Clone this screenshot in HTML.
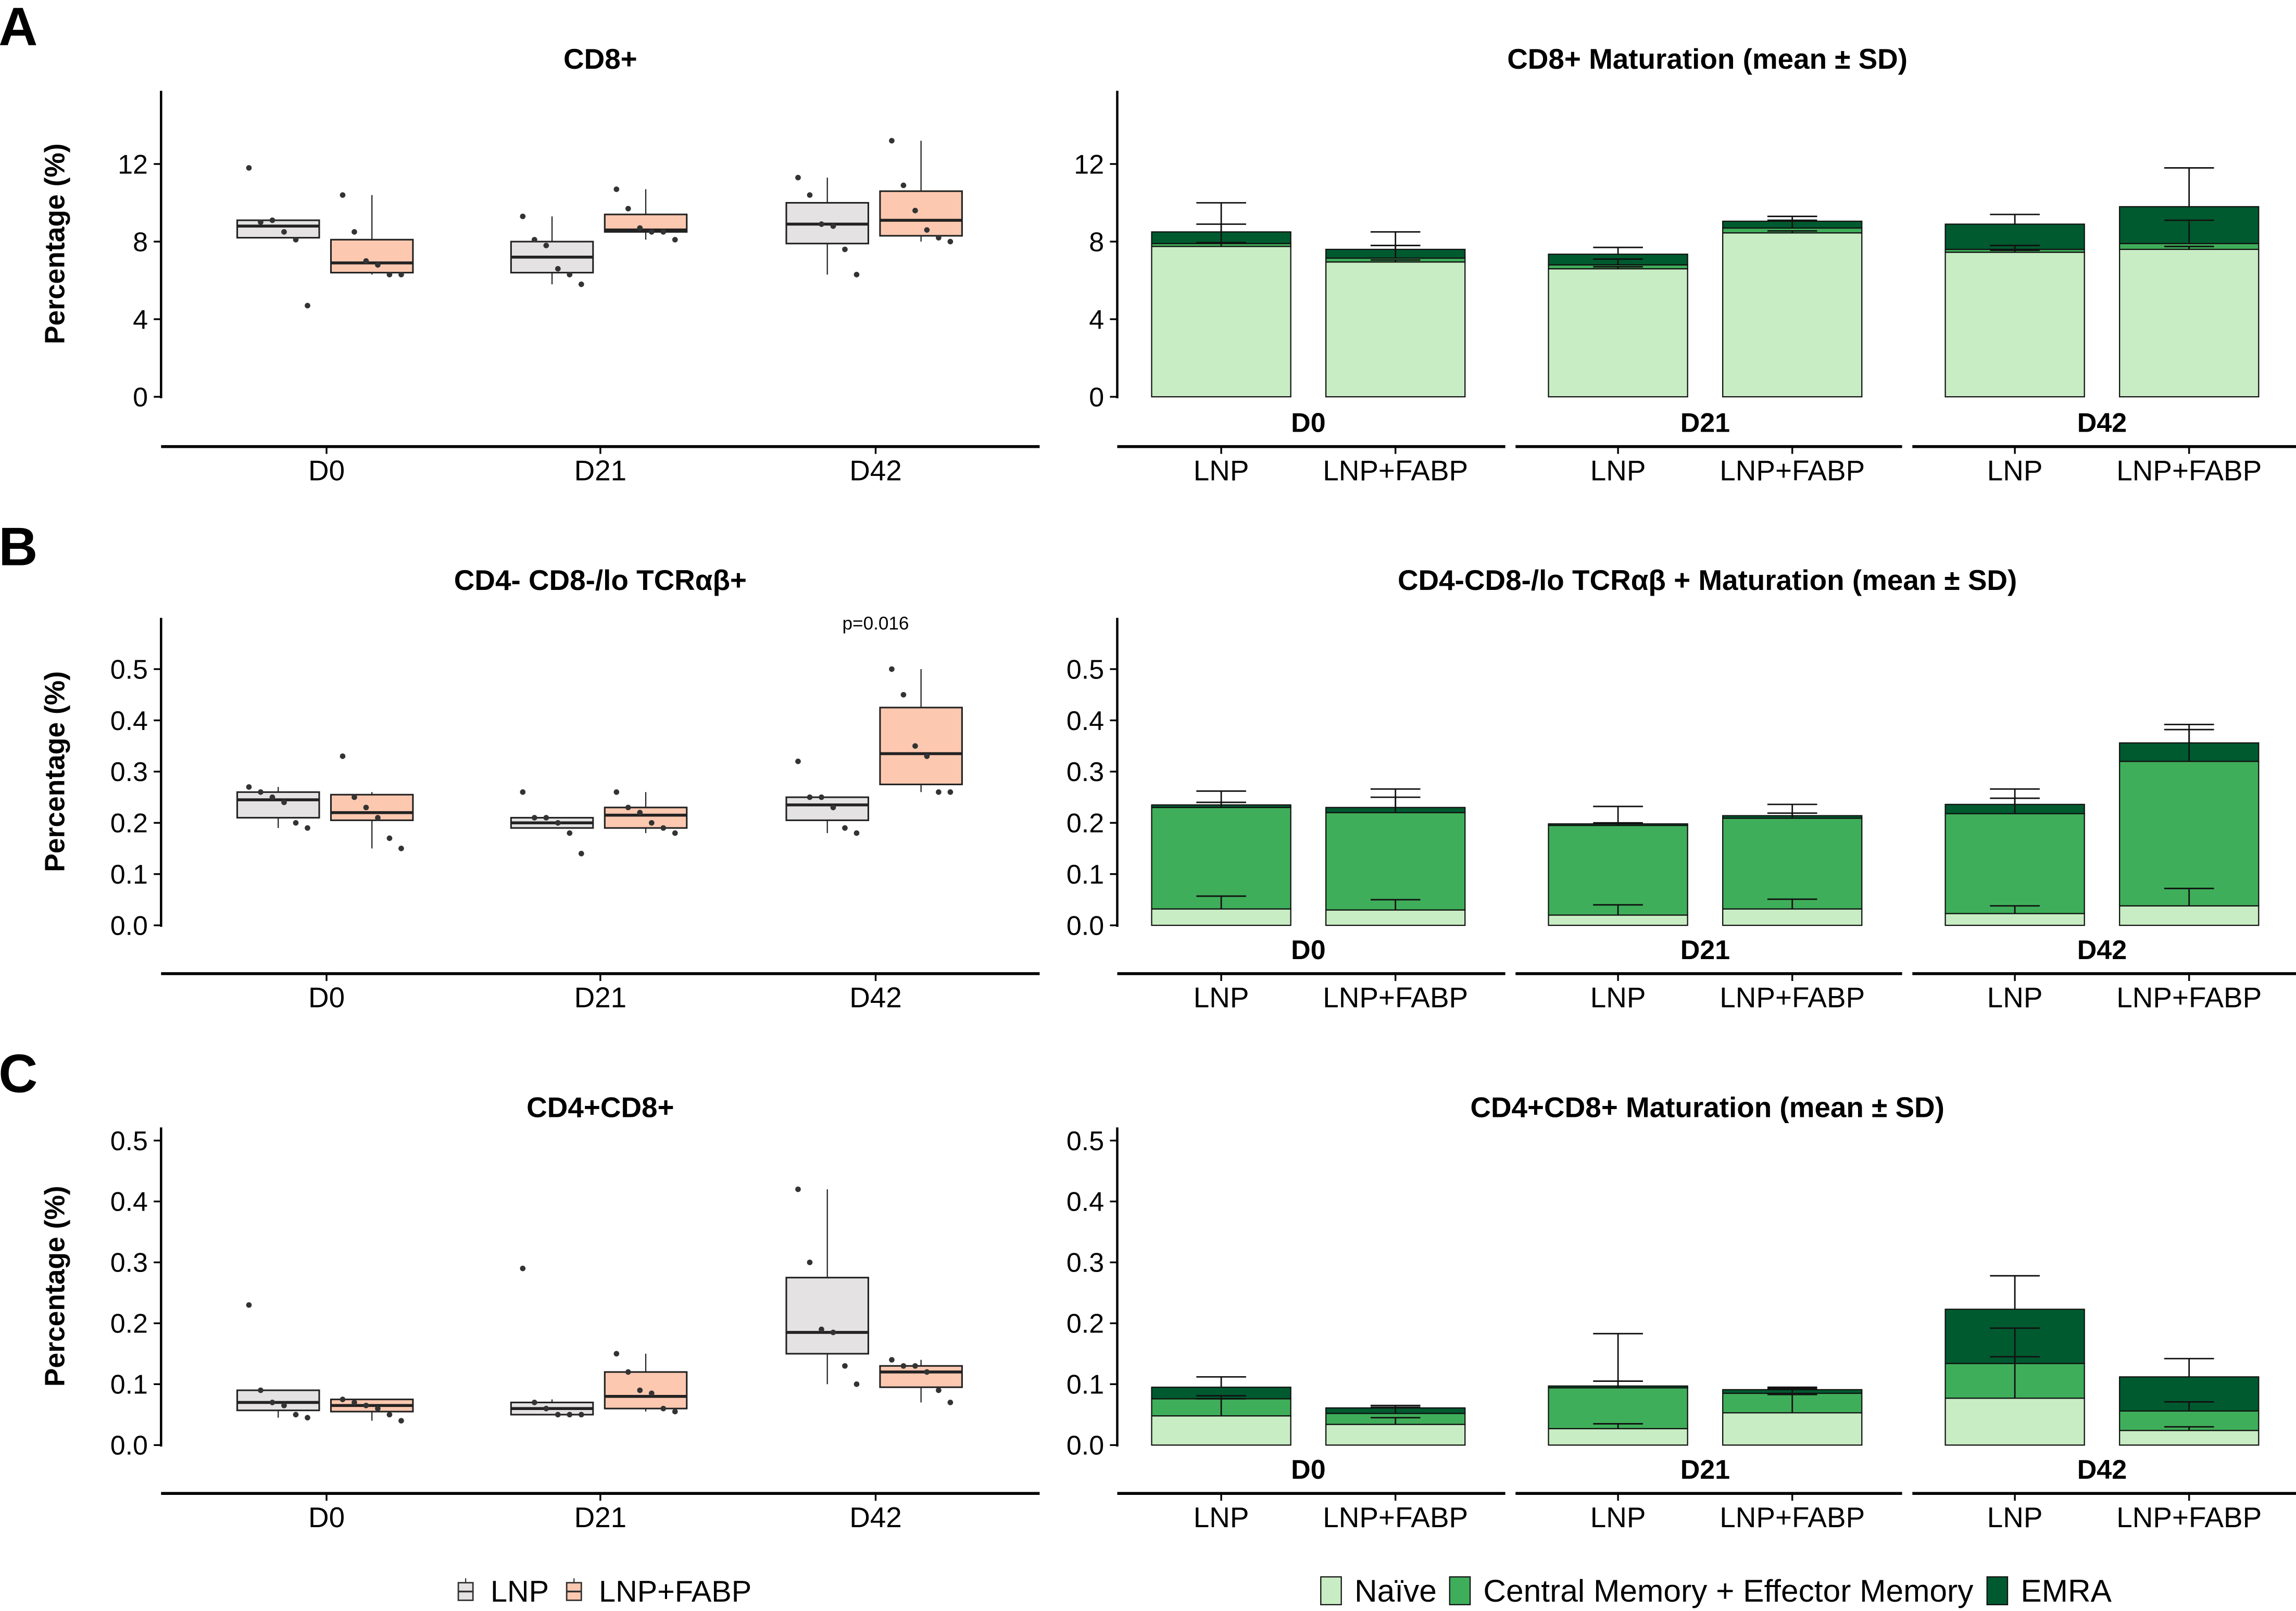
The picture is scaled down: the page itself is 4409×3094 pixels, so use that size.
<!DOCTYPE html>
<html><head><meta charset="utf-8">
<style>
html,body{margin:0;padding:0;background:#fff;}
svg{display:block;}
text{font-family:"Liberation Sans Narrow","Liberation Sans",sans-serif;fill:#000;}
.b{font-weight:bold;}
</style></head>
<body>
<svg id="fig" width="4409" height="3094" viewBox="0 0 1568 1100.3" xmlns="http://www.w3.org/2000/svg">
</svg>
<script>
// ---------- data ----------
const days = ["D0","D21","D42"];
const groups = ["LNP","LNP+FABP"];
// Box stats per box in order D0-LNP, D0-FABP, D21-LNP, D21-FABP, D42-LNP, D42-FABP : [lo,q1,med,q3,hi]
const boxA = [[8.2,8.2,8.8,9.1,9.1],[6.3,6.4,6.9,8.1,10.4],[5.8,6.4,7.2,8.0,9.3],[8.1,8.5,8.6,9.4,10.7],[6.3,7.9,8.9,10.0,11.3],[8.0,8.3,9.1,10.6,13.2]];
const ptsA = [[11.8,9.0,9.1,8.5,8.1,4.7],[10.4,8.5,7.0,6.8,6.3,6.3],[9.3,8.1,7.8,6.6,6.3,5.8],[10.7,9.7,8.7,8.5,8.5,8.1],[11.3,10.4,8.9,8.8,7.6,6.3],[13.2,10.9,9.6,8.6,8.2,8.0]];
const boxB = [[0.19,0.21,0.245,0.26,0.27],[0.15,0.205,0.22,0.255,0.26],[0.19,0.19,0.20,0.21,0.21],[0.18,0.19,0.215,0.23,0.26],[0.18,0.205,0.235,0.25,0.25],[0.26,0.275,0.335,0.425,0.50]];
const ptsB = [[0.27,0.26,0.25,0.24,0.20,0.19],[0.33,0.25,0.23,0.21,0.17,0.15],[0.26,0.21,0.21,0.20,0.18,0.14],[0.26,0.23,0.22,0.20,0.19,0.18],[0.32,0.25,0.25,0.23,0.19,0.18],[0.50,0.45,0.35,0.33,0.26,0.26]];
const boxC = [[0.045,0.057,0.07,0.09,0.09],[0.04,0.055,0.065,0.075,0.075],[0.05,0.05,0.06,0.07,0.075],[0.055,0.06,0.08,0.12,0.15],[0.10,0.15,0.185,0.275,0.42],[0.07,0.095,0.12,0.13,0.14]];
const ptsC = [[0.23,0.09,0.07,0.065,0.05,0.045],[0.075,0.07,0.065,0.06,0.05,0.04],[0.29,0.07,0.06,0.05,0.05,0.05],[0.15,0.12,0.09,0.085,0.06,0.055],[0.42,0.30,0.19,0.185,0.13,0.10],[0.14,0.13,0.13,0.12,0.09,0.07]];
// Stacked maturation: naive, central+effector memory, EMRA means and SDs
const naiveA = [7.75,6.95,6.6,8.45,7.45,7.6];
const memA   = [0.15,0.2,0.2,0.25,0.15,0.3];
const emraA  = [0.6,0.45,0.55,0.35,1.3,1.9];
const sdNA = [0.2,0.1,0.1,0.1,0.1,0.15];
const sdMA = [1.0,0.65,0.3,0.4,0.2,1.2];
const sdEA = [1.5,0.9,0.35,0.25,0.5,2.0];
const naiveB = [0.032,0.03,0.02,0.032,0.023,0.038];
const memB   = [0.198,0.19,0.175,0.177,0.195,0.282];
const emraB  = [0.005,0.01,0.003,0.005,0.018,0.036];
const sdNB = [0.025,0.02,0.02,0.019,0.015,0.034];
const sdMB = [0.01,0.03,0.005,0.01,0.03,0.062];
const sdEB = [0.027,0.036,0.034,0.022,0.03,0.036];
const naiveC = [0.048,0.034,0.027,0.053,0.077,0.024];
const memC   = [0.028,0.018,0.067,0.032,0.057,0.032];
const emraC  = [0.019,0.009,0.003,0.006,0.089,0.056];
const sdNC = [0.028,0.011,0.008,0.03,0.068,0.006];
const sdMC = [0.005,0.01,0.011,0.008,0.058,0.015];
const sdEC = [0.017,0.004,0.086,0.004,0.055,0.03];
const ticksA = [0,4,8,12];
const ticksBC = [0,0.1,0.2,0.3,0.4,0.5];

// ---------- drawing ----------
const svg = document.getElementById('fig');
const NS = "http://www.w3.org/2000/svg";
function mk(tag, attrs, parent){
  const e = document.createElementNS(NS, tag);
  for (const k in attrs) e.setAttribute(k, attrs[k]);
  (parent||svg).appendChild(e);
  return e;
}
function txt(s, x, y, size, opts, parent){
  const t = mk('text', Object.assign({x:x, y:y, 'font-size':size}, opts||{}), parent);
  t.textContent = s;
  return t;
}
const colLNP="#e4e2e2", colFABP="#fdc8b0";
const colN="#c8edc4", colM="#3fae5a", colE="#005a2f";
const dayX = [223,410,598];
const barX = [834,953,1105,1224,1376,1495];
const facets = [[763,1028],[1035,1299],[1306,1568]];

const panels = [
 {letter:"A", ly:31, title:"CD8+", rtitle:"CD8+ Maturation (mean ± SD)", ty:47, top:62, y0:271, ppu:13.25, ticks:ticksA, fmt:v=>String(v), xa:305, box:boxA, pts:ptsA, N:naiveA, M:memA, E:emraA, sN:sdNA, sM:sdMA, sE:sdEA},
 {letter:"B", ly:386, title:"CD4- CD8-/lo TCRαβ+", rtitle:"CD4-CD8-/lo TCRαβ + Maturation (mean ± SD)", ty:403, top:422, y0:632, ppu:350, ticks:ticksBC, fmt:v=>v.toFixed(1), xa:665, box:boxB, pts:ptsB, N:naiveB, M:memB, E:emraB, sN:sdNB, sM:sdMB, sE:sdEB, p:"p=0.016"},
 {letter:"C", ly:746, title:"CD4+CD8+", rtitle:"CD4+CD8+ Maturation (mean ± SD)", ty:763, top:770, y0:987, ppu:416, ticks:ticksBC, fmt:v=>v.toFixed(1), xa:1020, box:boxC, pts:ptsC, N:naiveC, M:memC, E:emraC, sN:sdNC, sM:sdMC, sE:sdEC}
];

panels.forEach((P, pi) => {
  const y = v => P.y0 - v*P.ppu;
  const g = mk('g', {});
  
  
  const L = txt(P.letter, -1, P.ly, 37, {class:'b', 'font-family':'Liberation Sans'}, g);
  
  

  // ---- left box plot ----
  const lg = mk('g', {}, g);
  
  
  const t1 = txt(P.title, 410, P.ty, 19.5, {class:'b','text-anchor':'middle','font-family':'Liberation Sans'}, lg);
  
  
  const yl = txt("Percentage (%)", 0, 0, 19, {class:'b','text-anchor':'middle','font-family':'Liberation Sans', transform:`translate(44,${(P.top+P.y0)/2}) rotate(-90)`}, lg);
  
  
  const ax = mk('line', {x1:110,y1:P.top,x2:110,y2:P.y0+1,stroke:'#000','stroke-width':1.6}, lg);
  
  
  P.ticks.forEach(v => {
    mk('line', {x1:105,y1:y(v),x2:110,y2:y(v),stroke:'#000','stroke-width':1.2}, lg);
    const tl = txt(P.fmt(v), 101, y(v)+6.5, 18.5, {'text-anchor':'end'}, lg);
    
    
  });
  const xl = mk('line', {x1:110,y1:P.xa,x2:710,y2:P.xa,stroke:'#000','stroke-width':2}, lg);
  
  
  days.forEach((d, i) => {
    mk('line', {x1:dayX[i],y1:P.xa,x2:dayX[i],y2:P.xa+5,stroke:'#000','stroke-width':1.2}, lg);
    const tl = txt(d, dayX[i], P.xa+23, 19.5, {'text-anchor':'middle'}, lg);
    
    
  });
  P.box.forEach((s, k) => {
    const cx = dayX[Math.floor(k/2)] + (k%2 ? 31 : -33);
    const bg = mk('g', {}, lg);
    
    
    mk('line', {x1:cx,y1:y(s[0]),x2:cx,y2:y(s[4]),stroke:'#222','stroke-width':0.8}, bg);
    mk('rect', {x:cx-28,y:y(s[3]),width:56,height:Math.max(0.5,y(s[1])-y(s[3])),fill:k%2?colFABP:colLNP,stroke:'#222','stroke-width':1.1}, bg);
    mk('line', {x1:cx-28,y1:y(s[2]),x2:cx+28,y2:y(s[2]),stroke:'#222','stroke-width':2}, bg);
    P.pts[k].forEach((v, j) => {
      const c = mk('circle', {cx:cx-20+j*8, cy:y(v), r:1.9, fill:'#333'}, bg);
      
      
    });
  });
  if (P.p) {
    const pt = txt(P.p, 598, 430, 12.5, {'text-anchor':'middle','font-family':'Liberation Sans'}, lg);
    
    
  }

  // ---- right stacked bar ----
  const rg = mk('g', {}, g);
  
  
  const t2 = txt(P.rtitle, 1166, P.ty, 19.5, {class:'b','text-anchor':'middle','font-family':'Liberation Sans'}, rg);
  
  
  const ax2 = mk('line', {x1:763,y1:P.top,x2:763,y2:P.y0+1,stroke:'#000','stroke-width':1.6}, rg);
  
  
  P.ticks.forEach(v => {
    mk('line', {x1:758,y1:y(v),x2:763,y2:y(v),stroke:'#000','stroke-width':1.2}, rg);
    const tl = txt(P.fmt(v), 754, y(v)+6.5, 18.5, {'text-anchor':'end'}, rg);
    
    
  });
  facets.forEach((f, i) => {
    const fl = mk('line', {x1:f[0],y1:P.xa,x2:f[1],y2:P.xa,stroke:'#000','stroke-width':2}, rg);
    
    
    const fx = (barX[2*i]+barX[2*i+1])/2;
    const ft = txt(days[i], fx, P.xa-10, 18.5, {class:'b','text-anchor':'middle','font-family':'Liberation Sans'}, rg);
    
    
    groups.forEach((gname, j) => {
      const bx = barX[2*i+j];
      mk('line', {x1:bx,y1:P.xa,x2:bx,y2:P.xa+5,stroke:'#000','stroke-width':1.2}, rg);
      const tl = txt(gname, bx, P.xa+23, 19.5, {'text-anchor':'middle'}, rg);
      
      
    });
  });
  for (let k = 0; k < 6; k++) {
    const bx = barX[k];
    const segs = [[P.N[k], P.sN[k], colN, 'naive'], [P.M[k], P.sM[k], colM, 'memory'], [P.E[k], P.sE[k], colE, 'emra']];
    let cum = 0;
    const tops = [];
    segs.forEach(s => {
      const r = mk('rect', {x:bx-47.5, y:y(cum+s[0]), width:95, height:s[0]*P.ppu, fill:s[2], stroke:'#111','stroke-width':0.8}, rg);
      
      
      cum += s[0];
      tops.push([cum, s[1]]);
    });
    tops.forEach(t => {
      const eg = mk('g', {stroke:'#111','stroke-width':1}, rg);
      
      
      const hi = y(t[0]+t[1]), lo = y(t[0]);
      mk('line', {x1:bx,y1:hi,x2:bx,y2:lo}, eg);
      mk('line', {x1:bx-17,y1:hi,x2:bx+17,y2:hi}, eg);
    });
  }
  svg.appendChild(g);
});

// ---------- legends ----------
const lg1 = mk('g', {});


[["LNP", colLNP, 313], ["LNP+FABP", colFABP, 387]].forEach(e => {
  const eg = mk('g', {}, lg1);
  
  
  mk('rect', {x:e[2], y:1081, width:10, height:12, fill:e[1], stroke:'#333','stroke-width':1}, eg);
  mk('line', {x1:e[2],y1:1087,x2:e[2]+10,y2:1087,stroke:'#333','stroke-width':1.2}, eg);
  mk('line', {x1:e[2]+5,y1:1078,x2:e[2]+5,y2:1081,stroke:'#333','stroke-width':0.8}, eg);
  txt(e[0], e[2]+22, 1094, 20.5, {'font-family':'Liberation Sans'}, eg);
});
const lg2 = mk('g', {});


[["Naïve", colN, 902], ["Central Memory + Effector Memory", colM, 990], ["EMRA", colE, 1357]].forEach(e => {
  const eg = mk('g', {}, lg2);
  
  
  mk('rect', {x:e[2], y:1077, width:14, height:19, fill:e[1], stroke:'#111','stroke-width':0.8}, eg);
  txt(e[0], e[2]+23, 1094, 21.5, {'font-family':'Liberation Sans'}, eg);
});
</script>
</body></html>
